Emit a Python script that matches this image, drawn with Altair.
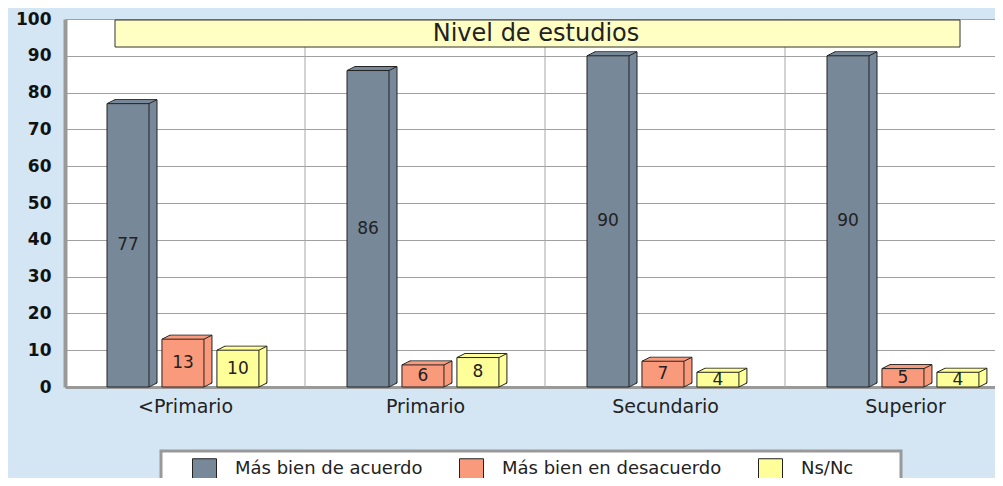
import altair as alt
import pandas as pd

categories = ['<Primario', 'Primario', 'Secundario', 'Superior']
series = ['Más bien de acuerdo', 'Más bien en desacuerdo', 'Ns/Nc']
acuerdo = [77, 86, 90, 90]
desacuerdo = [13, 6, 7, 5]
nsnc = [10, 8, 4, 4]
colors = ['#778899', '#F99A7C', '#FFFF99']
panel_title = 'Nivel de estudios'
y_ticks = [0, 10, 20, 30, 40, 50, 60, 70, 80, 90, 100]

rows = []
for ci, cat in enumerate(categories):
    for si, vals in enumerate([acuerdo, desacuerdo, nsnc]):
        rows.append({'cat': cat, 'ci': ci, 'series': series[si], 'si': si, 'value': vals[ci]})
df = pd.DataFrame(rows)
grid_df = pd.DataFrame({'g': [1, 2, 3]})

FONT = 'DejaVu Sans'
xscale = alt.Scale(domain=[0, 3.875], nice=False, zero=False)
yscale = alt.Scale(domain=[0, 100], nice=False)
label_js = "['" + "','".join(categories) + "'][floor(datum.value)]"
xaxis = alt.Axis(values=[0.5, 1.5, 2.5, 3.5], labelExpr=label_js, title=None, grid=False,
                 ticks=False, tickSize=0, domainColor='#999999', domainWidth=3,
                 labelFont=FONT, labelFontSize=19, labelColor='#222222', labelPadding=10)
yaxis = alt.Axis(values=y_ticks, title=None, grid=True, gridColor='#a0a0a0', gridWidth=1,
                 ticks=False, tickSize=0, domainColor='#999999', domainWidth=4,
                 labelFont=FONT, labelFontWeight='bold', labelFontSize=17, labelColor='#111111',
                 labelPadding=14)


def X(f):
    return alt.X(f, type='quantitative', scale=xscale, axis=xaxis)


def Y(f):
    return alt.Y(f, type='quantitative', scale=yscale, axis=yaxis)


legend = alt.Legend(orient='none', legendX=129, legendY=439, zindex=2,
                    direction='horizontal', title=None,
                    symbolType='M-1.2,-1H1.2V1H-1.2Z', symbolSize=400,
                    symbolStrokeColor='#222222', symbolStrokeWidth=1, symbolOpacity=1,
                    labelFont=FONT, labelFontSize=18, labelColor='#222222',
                    labelOffset=20, columnPadding=34, padding=0, labelLimit=400)
color = alt.Color('series:N', scale=alt.Scale(domain=series, range=colors), legend=legend)

base = alt.Chart(df).transform_calculate(
    xs='datum.ci + 0.175 + 0.229 * datum.si',
    xe='datum.ci + 0.35 + 0.229 * datum.si',
    xm='datum.ci + 0.2625 + 0.229 * datum.si',
    ym='datum.value / 2'
)

vgrid = alt.Chart(grid_df).mark_rule(color='#a8a8a8', strokeWidth=1).encode(x=X('g'))

layers = [vgrid]

# legend box (behind legend)
title_df = pd.DataFrame({'t': [panel_title]})
layers.append(alt.Chart(title_df).mark_rect(fill='white', stroke='#999999', strokeWidth=3).encode(
    x=alt.value(96), x2=alt.value(836), y=alt.value(432), y2=alt.value(500)))

# back face with outline
layers.append(base.mark_rect(xOffset=8, x2Offset=8, yOffset=-4, y2Offset=-4,
                             stroke='#222222', strokeWidth=1).encode(
    x=X('xs'), x2='xe:Q', y=Y('value'), y2=alt.datum(0), color=color))
# depth fill
for k in range(7, 0, -1):
    layers.append(base.mark_rect(xOffset=k, x2Offset=k, yOffset=-k / 2, y2Offset=-k / 2).encode(
        x=X('xs'), x2='xe:Q', y=Y('value'), y2=alt.datum(0), color=color))
# front face
layers.append(base.mark_rect(stroke='#222222', strokeWidth=1).encode(
    x=X('xs'), x2='xe:Q', y=Y('value'), y2=alt.datum(0), color=color))
# diagonal edges
layers.append(base.mark_rule(color='#222222', strokeWidth=1, x2Offset=8, y2Offset=-4).encode(
    x=X('xs'), x2='xs:Q', y=Y('value'), y2='value:Q'))
layers.append(base.mark_rule(color='#222222', strokeWidth=1, x2Offset=8, y2Offset=-4).encode(
    x=X('xe'), x2='xe:Q', y=Y('value'), y2='value:Q'))
layers.append(base.mark_rule(color='#222222', strokeWidth=1, x2Offset=8, y2Offset=-4).encode(
    x=X('xe'), x2='xe:Q', y=alt.datum(0, scale=yscale, axis=yaxis), y2=alt.datum(0)))
# value labels
layers.append(base.mark_text(font=FONT, fontSize=17, color='#222222', baseline='middle').encode(
    x=X('xm'), y=Y('ym'), text='value:Q'))

# panel title box
layers.append(alt.Chart(title_df).mark_rect(fill='#FFFFC4', stroke='#333333', strokeWidth=1).encode(
    x=alt.value(50), x2=alt.value(895), y=alt.value(1), y2=alt.value(28)))
layers.append(alt.Chart(title_df).mark_text(font=FONT, fontSize=24, color='#222222',
                                            baseline='middle').encode(
    x=alt.value(471), y=alt.value(15), text='t:N'))

chart = alt.layer(*layers).properties(
    width=930, height=368,
    autosize=alt.AutoSizeParams(type='none'),
    padding={'left': 57, 'top': 11, 'right': 0, 'bottom': 91},
    background='#D4E6F4'
).configure_view(fill='white', strokeWidth=0)

chart.save('out.html', embed_options={'renderer': 'svg', 'actions': False})
